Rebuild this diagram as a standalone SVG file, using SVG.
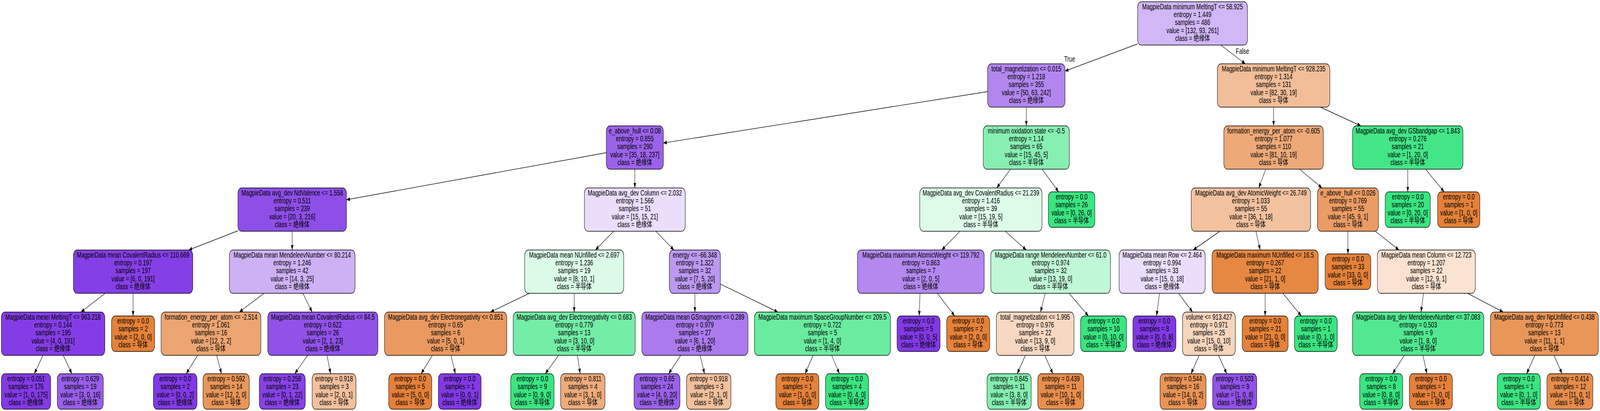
<svg xmlns="http://www.w3.org/2000/svg" width="6059" height="1053" viewBox="0 0 6059 1053" preserveAspectRatio="none">
<style>
svg{width:100vw;height:100vh}
.node rect{stroke:#000;stroke-width:1.4}
.node text,.lbl{font-family:"Liberation Sans","Noto Sans CJK SC",sans-serif;font-size:20.5px;fill:#000;text-anchor:middle}
.edges line{stroke:#000;stroke-width:1.4;marker-end:url(#ah)}
.o{fill:#e58139}.g{fill:#39e581}.p{fill:#8139e5}
</style>
<defs>
<marker id="ah" markerUnits="userSpaceOnUse" markerWidth="14" markerHeight="12" viewBox="0 -6 14 12" refX="13" refY="0" orient="auto"><path d="M0,-5L13,0L0,5z" fill="#000"/></marker>
</defs>
<rect width="6059" height="1053" fill="#fff"/>
<g id="nodes">
<g id="n0" class="node"><rect x="4308" y="4.5" width="416" height="111" rx="14" fill="#d1b7f6"/><text x="4516" y="24.3"><tspan x="4516">MagpieData minimum MeltingT &lt;= 58.925</tspan><tspan x="4516" dy="20.1">entropy = 1.449</tspan><tspan x="4516" dy="20.1">samples = 486</tspan><tspan x="4516" dy="20.1">value = [132, 93, 261]</tspan><tspan x="4516" dy="20.1">class = 绝缘体</tspan></text></g>
<g id="n1" class="node"><rect x="3740" y="163.5" width="293" height="111" rx="14" fill="#b286ef"/><text x="3886.5" y="183.3"><tspan x="3886.5">total_magnetization &lt;= 0.015</tspan><tspan x="3886.5" dy="20.1">entropy = 1.218</tspan><tspan x="3886.5" dy="20.1">samples = 355</tspan><tspan x="3886.5" dy="20.1">value = [50, 63, 242]</tspan><tspan x="3886.5" dy="20.1">class = 绝缘体</tspan></text></g>
<g id="n2" class="node"><rect x="4610" y="163.5" width="426" height="111" rx="14" fill="#f2be99"/><text x="4823" y="183.3"><tspan x="4823">MagpieData minimum MeltingT &lt;= 928.235</tspan><tspan x="4823" dy="20.1">entropy = 1.314</tspan><tspan x="4823" dy="20.1">samples = 131</tspan><tspan x="4823" dy="20.1">value = [82, 30, 19]</tspan><tspan x="4823" dy="20.1">class = 导体</tspan></text></g>
<g id="n3" class="node"><rect x="2296" y="322.5" width="216" height="111" rx="14" fill="#9b62ea"/><text x="2404" y="342.3"><tspan x="2404">e_above_hull &lt;= 0.08</tspan><tspan x="2404" dy="20.1">entropy = 0.855</tspan><tspan x="2404" dy="20.1">samples = 290</tspan><tspan x="2404" dy="20.1">value = [35, 18, 237]</tspan><tspan x="2404" dy="20.1">class = 绝缘体</tspan></text></g>
<g id="n4" class="node"><rect x="3723.5" y="322.5" width="326" height="111" rx="14" fill="#88efb3"/><text x="3886.5" y="342.3"><tspan x="3886.5">minimum oxidation state &lt;= -0.5</tspan><tspan x="3886.5" dy="20.1">entropy = 1.14</tspan><tspan x="3886.5" dy="20.1">samples = 65</tspan><tspan x="3886.5" dy="20.1">value = [15, 45, 5]</tspan><tspan x="3886.5" dy="20.1">class = 半导体</tspan></text></g>
<g id="n5" class="node"><rect x="4634.5" y="322.5" width="377" height="111" rx="14" fill="#eda978"/><text x="4823" y="342.3"><tspan x="4823">formation_energy_per_atom &lt;= -0.605</tspan><tspan x="4823" dy="20.1">entropy = 1.077</tspan><tspan x="4823" dy="20.1">samples = 110</tspan><tspan x="4823" dy="20.1">value = [81, 10, 19]</tspan><tspan x="4823" dy="20.1">class = 导体</tspan></text></g>
<g id="n6" class="node"><rect x="5122" y="322.5" width="418" height="111" rx="14" fill="#43e687"/><text x="5331" y="342.3"><tspan x="5331">MagpieData avg_dev GSbandgap &lt;= 1.843</tspan><tspan x="5331" dy="20.1">entropy = 0.276</tspan><tspan x="5331" dy="20.1">samples = 21</tspan><tspan x="5331" dy="20.1">value = [1, 20, 0]</tspan><tspan x="5331" dy="20.1">class = 半导体</tspan></text></g>
<g id="n7" class="node"><rect x="901" y="481.5" width="411" height="111" rx="14" fill="#8e4ee8"/><text x="1106.5" y="501.3"><tspan x="1106.5">MagpieData avg_dev NdValence &lt;= 1.558</tspan><tspan x="1106.5" dy="20.1">entropy = 0.511</tspan><tspan x="1106.5" dy="20.1">samples = 239</tspan><tspan x="1106.5" dy="20.1">value = [20, 3, 216]</tspan><tspan x="1106.5" dy="20.1">class = 绝缘体</tspan></text></g>
<g id="n8" class="node"><rect x="2213" y="481.5" width="382" height="111" rx="14" fill="#eadefb"/><text x="2404" y="501.3"><tspan x="2404">MagpieData avg_dev Column &lt;= 2.032</tspan><tspan x="2404" dy="20.1">entropy = 1.566</tspan><tspan x="2404" dy="20.1">samples = 51</tspan><tspan x="2404" dy="20.1">value = [15, 15, 21]</tspan><tspan x="2404" dy="20.1">class = 绝缘体</tspan></text></g>
<g id="n9" class="node"><rect x="3483" y="481.5" width="463" height="111" rx="14" fill="#defbea"/><text x="3714.5" y="501.3"><tspan x="3714.5">MagpieData avg_dev CovalentRadius &lt;= 21.239</tspan><tspan x="3714.5" dy="20.1">entropy = 1.416</tspan><tspan x="3714.5" dy="20.1">samples = 39</tspan><tspan x="3714.5" dy="20.1">value = [15, 19, 5]</tspan><tspan x="3714.5" dy="20.1">class = 半导体</tspan></text></g>
<g id="n10" class="node"><rect class="g" x="3970" y="491.5" width="176" height="91" rx="14"/><text x="4058" y="511.35"><tspan x="4058">entropy = 0.0</tspan><tspan x="4058" dy="20.1">samples = 26</tspan><tspan x="4058" dy="20.1">value = [0, 26, 0]</tspan><tspan x="4058" dy="20.1">class = 半导体</tspan></text></g>
<g id="n11" class="node"><rect x="4511" y="481.5" width="452" height="111" rx="14" fill="#f2c29f"/><text x="4737" y="501.3"><tspan x="4737">MagpieData avg_dev AtomicWeight &lt;= 26.749</tspan><tspan x="4737" dy="20.1">entropy = 1.033</tspan><tspan x="4737" dy="20.1">samples = 55</tspan><tspan x="4737" dy="20.1">value = [36, 1, 18]</tspan><tspan x="4737" dy="20.1">class = 导体</tspan></text></g>
<g id="n12" class="node"><rect x="4989" y="481.5" width="231" height="111" rx="14" fill="#eb9c64"/><text x="5104.5" y="501.3"><tspan x="5104.5">e_above_hull &lt;= 0.026</tspan><tspan x="5104.5" dy="20.1">entropy = 0.769</tspan><tspan x="5104.5" dy="20.1">samples = 55</tspan><tspan x="5104.5" dy="20.1">value = [45, 9, 1]</tspan><tspan x="5104.5" dy="20.1">class = 导体</tspan></text></g>
<g id="n13" class="node"><rect class="g" x="5245.5" y="491.5" width="171" height="91" rx="14"/><text x="5331" y="511.35"><tspan x="5331">entropy = 0.0</tspan><tspan x="5331" dy="20.1">samples = 20</tspan><tspan x="5331" dy="20.1">value = [0, 20, 0]</tspan><tspan x="5331" dy="20.1">class = 半导体</tspan></text></g>
<g id="n14" class="node"><rect class="o" x="5444" y="491.5" width="160" height="91" rx="14"/><text x="5524" y="511.35"><tspan x="5524">entropy = 0.0</tspan><tspan x="5524" dy="20.1">samples = 1</tspan><tspan x="5524" dy="20.1">value = [1, 0, 0]</tspan><tspan x="5524" dy="20.1">class = 导体</tspan></text></g>
<g id="n15" class="node"><rect x="278" y="640.5" width="452" height="111" rx="14" fill="#853fe6"/><text x="504" y="660.3"><tspan x="504">MagpieData mean CovalentRadius &lt;= 110.669</tspan><tspan x="504" dy="20.1">entropy = 0.197</tspan><tspan x="504" dy="20.1">samples = 197</tspan><tspan x="504" dy="20.1">value = [6, 0, 191]</tspan><tspan x="504" dy="20.1">class = 绝缘体</tspan></text></g>
<g id="n16" class="node"><rect x="868.5" y="640.5" width="476" height="111" rx="14" fill="#ceb1f5"/><text x="1106.5" y="660.3"><tspan x="1106.5">MagpieData mean MendeleevNumber &lt;= 80.214</tspan><tspan x="1106.5" dy="20.1">entropy = 1.246</tspan><tspan x="1106.5" dy="20.1">samples = 42</tspan><tspan x="1106.5" dy="20.1">value = [14, 3, 25]</tspan><tspan x="1106.5" dy="20.1">class = 绝缘体</tspan></text></g>
<g id="n17" class="node"><rect x="1987" y="640.5" width="375" height="111" rx="14" fill="#dbfae8"/><text x="2174.5" y="660.3"><tspan x="2174.5">MagpieData mean NUnfilled &lt;= 2.697</tspan><tspan x="2174.5" dy="20.1">entropy = 1.236</tspan><tspan x="2174.5" dy="20.1">samples = 19</tspan><tspan x="2174.5" dy="20.1">value = [8, 10, 1]</tspan><tspan x="2174.5" dy="20.1">class = 半导体</tspan></text></g>
<g id="n18" class="node"><rect x="2535" y="640.5" width="193" height="111" rx="14" fill="#bd98f1"/><text x="2631.5" y="660.3"><tspan x="2631.5">energy &lt;= -66.348</tspan><tspan x="2631.5" dy="20.1">entropy = 1.322</tspan><tspan x="2631.5" dy="20.1">samples = 32</tspan><tspan x="2631.5" dy="20.1">value = [7, 5, 20]</tspan><tspan x="2631.5" dy="20.1">class = 绝缘体</tspan></text></g>
<g id="n19" class="node"><rect x="3247" y="640.5" width="480" height="111" rx="14" fill="#b388ef"/><text x="3487" y="660.3"><tspan x="3487">MagpieData maximum AtomicWeight &lt;= 119.792</tspan><tspan x="3487" dy="20.1">entropy = 0.863</tspan><tspan x="3487" dy="20.1">samples = 7</tspan><tspan x="3487" dy="20.1">value = [2, 0, 5]</tspan><tspan x="3487" dy="20.1">class = 绝缘体</tspan></text></g>
<g id="n20" class="node"><rect x="3752" y="640.5" width="453" height="111" rx="14" fill="#c0f7d7"/><text x="3978.5" y="660.3"><tspan x="3978.5">MagpieData range MendeleevNumber &lt;= 61.0</tspan><tspan x="3978.5" dy="20.1">entropy = 0.974</tspan><tspan x="3978.5" dy="20.1">samples = 32</tspan><tspan x="3978.5" dy="20.1">value = [13, 19, 0]</tspan><tspan x="3978.5" dy="20.1">class = 半导体</tspan></text></g>
<g id="n21" class="node"><rect x="4238" y="640.5" width="326" height="111" rx="14" fill="#eadefb"/><text x="4401" y="660.3"><tspan x="4401">MagpieData mean Row &lt;= 2.464</tspan><tspan x="4401" dy="20.1">entropy = 0.994</tspan><tspan x="4401" dy="20.1">samples = 33</tspan><tspan x="4401" dy="20.1">value = [15, 0, 18]</tspan><tspan x="4401" dy="20.1">class = 绝缘体</tspan></text></g>
<g id="n22" class="node"><rect x="4590" y="640.5" width="402" height="111" rx="14" fill="#e68742"/><text x="4791" y="660.3"><tspan x="4791">MagpieData maximum NUnfilled &lt;= 16.5</tspan><tspan x="4791" dy="20.1">entropy = 0.267</tspan><tspan x="4791" dy="20.1">samples = 22</tspan><tspan x="4791" dy="20.1">value = [21, 1, 0]</tspan><tspan x="4791" dy="20.1">class = 导体</tspan></text></g>
<g id="n23" class="node"><rect class="o" x="5018" y="650.5" width="173" height="91" rx="14"/><text x="5104.5" y="670.35"><tspan x="5104.5">entropy = 0.0</tspan><tspan x="5104.5" dy="20.1">samples = 33</tspan><tspan x="5104.5" dy="20.1">value = [33, 0, 0]</tspan><tspan x="5104.5" dy="20.1">class = 导体</tspan></text></g>
<g id="n24" class="node"><rect x="5216" y="640.5" width="371" height="111" rx="14" fill="#f9e2d1"/><text x="5401.5" y="660.3"><tspan x="5401.5">MagpieData mean Column &lt;= 12.723</tspan><tspan x="5401.5" dy="20.1">entropy = 1.207</tspan><tspan x="5401.5" dy="20.1">samples = 22</tspan><tspan x="5401.5" dy="20.1">value = [12, 9, 1]</tspan><tspan x="5401.5" dy="20.1">class = 导体</tspan></text></g>
<g id="n25" class="node"><rect x="5" y="799.5" width="392" height="111" rx="14" fill="#843de6"/><text x="201" y="819.3"><tspan x="201">MagpieData mean MeltingT &lt;= 963.218</tspan><tspan x="201" dy="20.1">entropy = 0.144</tspan><tspan x="201" dy="20.1">samples = 195</tspan><tspan x="201" dy="20.1">value = [4, 0, 191]</tspan><tspan x="201" dy="20.1">class = 绝缘体</tspan></text></g>
<g id="n26" class="node"><rect class="o" x="422.5" y="809.5" width="163" height="91" rx="14"/><text x="504" y="829.35"><tspan x="504">entropy = 0.0</tspan><tspan x="504" dy="20.1">samples = 2</tspan><tspan x="504" dy="20.1">value = [2, 0, 0]</tspan><tspan x="504" dy="20.1">class = 导体</tspan></text></g>
<g id="n27" class="node"><rect x="610" y="799.5" width="378" height="111" rx="14" fill="#eca572"/><text x="799" y="819.3"><tspan x="799">formation_energy_per_atom &lt;= -2.514</tspan><tspan x="799" dy="20.1">entropy = 1.061</tspan><tspan x="799" dy="20.1">samples = 16</tspan><tspan x="799" dy="20.1">value = [12, 2, 2]</tspan><tspan x="799" dy="20.1">class = 导体</tspan></text></g>
<g id="n28" class="node"><rect x="1014" y="799.5" width="417" height="111" rx="14" fill="#9152e8"/><text x="1222.5" y="819.3"><tspan x="1222.5">MagpieData mean CovalentRadius &lt;= 84.5</tspan><tspan x="1222.5" dy="20.1">entropy = 0.622</tspan><tspan x="1222.5" dy="20.1">samples = 26</tspan><tspan x="1222.5" dy="20.1">value = [2, 1, 23]</tspan><tspan x="1222.5" dy="20.1">class = 绝缘体</tspan></text></g>
<g id="n29" class="node"><rect x="1456" y="799.5" width="463" height="111" rx="14" fill="#ea9a61"/><text x="1687.5" y="819.3"><tspan x="1687.5">MagpieData avg_dev Electronegativity &lt;= 0.851</tspan><tspan x="1687.5" dy="20.1">entropy = 0.65</tspan><tspan x="1687.5" dy="20.1">samples = 6</tspan><tspan x="1687.5" dy="20.1">value = [5, 0, 1]</tspan><tspan x="1687.5" dy="20.1">class = 导体</tspan></text></g>
<g id="n30" class="node"><rect x="1943.5" y="799.5" width="462" height="111" rx="14" fill="#74eda7"/><text x="2174.5" y="819.3"><tspan x="2174.5">MagpieData avg_dev Electronegativity &lt;= 0.683</tspan><tspan x="2174.5" dy="20.1">entropy = 0.779</tspan><tspan x="2174.5" dy="20.1">samples = 13</tspan><tspan x="2174.5" dy="20.1">value = [3, 10, 0]</tspan><tspan x="2174.5" dy="20.1">class = 半导体</tspan></text></g>
<g id="n31" class="node"><rect x="2430.5" y="799.5" width="402" height="111" rx="14" fill="#ab7bee"/><text x="2631.5" y="819.3"><tspan x="2631.5">MagpieData mean GSmagmom &lt;= 0.289</tspan><tspan x="2631.5" dy="20.1">entropy = 0.979</tspan><tspan x="2631.5" dy="20.1">samples = 27</tspan><tspan x="2631.5" dy="20.1">value = [6, 1, 20]</tspan><tspan x="2631.5" dy="20.1">class = 绝缘体</tspan></text></g>
<g id="n32" class="node"><rect x="2857" y="799.5" width="515" height="111" rx="14" fill="#6aeca0"/><text x="3114.5" y="819.3"><tspan x="3114.5">MagpieData maximum SpaceGroupNumber &lt;= 209.5</tspan><tspan x="3114.5" dy="20.1">entropy = 0.722</tspan><tspan x="3114.5" dy="20.1">samples = 5</tspan><tspan x="3114.5" dy="20.1">value = [1, 4, 0]</tspan><tspan x="3114.5" dy="20.1">class = 半导体</tspan></text></g>
<g id="n33" class="node"><rect class="p" x="3397" y="809.5" width="163" height="91" rx="14"/><text x="3478.5" y="829.35"><tspan x="3478.5">entropy = 0.0</tspan><tspan x="3478.5" dy="20.1">samples = 5</tspan><tspan x="3478.5" dy="20.1">value = [0, 0, 5]</tspan><tspan x="3478.5" dy="20.1">class = 绝缘体</tspan></text></g>
<g id="n34" class="node"><rect class="o" x="3585" y="809.5" width="163" height="91" rx="14"/><text x="3666.5" y="829.35"><tspan x="3666.5">entropy = 0.0</tspan><tspan x="3666.5" dy="20.1">samples = 2</tspan><tspan x="3666.5" dy="20.1">value = [2, 0, 0]</tspan><tspan x="3666.5" dy="20.1">class = 导体</tspan></text></g>
<g id="n35" class="node"><rect x="3773" y="799.5" width="294" height="111" rx="14" fill="#f7d8c2"/><text x="3920" y="819.3"><tspan x="3920">total_magnetization &lt;= 1.995</tspan><tspan x="3920" dy="20.1">entropy = 0.976</tspan><tspan x="3920" dy="20.1">samples = 22</tspan><tspan x="3920" dy="20.1">value = [13, 9, 0]</tspan><tspan x="3920" dy="20.1">class = 导体</tspan></text></g>
<g id="n36" class="node"><rect class="g" x="4092" y="809.5" width="174" height="91" rx="14"/><text x="4179" y="829.35"><tspan x="4179">entropy = 0.0</tspan><tspan x="4179" dy="20.1">samples = 10</tspan><tspan x="4179" dy="20.1">value = [0, 10, 0]</tspan><tspan x="4179" dy="20.1">class = 半导体</tspan></text></g>
<g id="n37" class="node"><rect class="p" x="4290" y="809.5" width="163" height="91" rx="14"/><text x="4371.5" y="829.35"><tspan x="4371.5">entropy = 0.0</tspan><tspan x="4371.5" dy="20.1">samples = 8</tspan><tspan x="4371.5" dy="20.1">value = [0, 0, 8]</tspan><tspan x="4371.5" dy="20.1">class = 绝缘体</tspan></text></g>
<g id="n38" class="node"><rect x="4478" y="799.5" width="200" height="111" rx="14" fill="#f6d5bd"/><text x="4578" y="819.3"><tspan x="4578">volume &lt;= 913.427</tspan><tspan x="4578" dy="20.1">entropy = 0.971</tspan><tspan x="4578" dy="20.1">samples = 25</tspan><tspan x="4578" dy="20.1">value = [15, 0, 10]</tspan><tspan x="4578" dy="20.1">class = 导体</tspan></text></g>
<g id="n39" class="node"><rect class="o" x="4704" y="809.5" width="174" height="91" rx="14"/><text x="4791" y="829.35"><tspan x="4791">entropy = 0.0</tspan><tspan x="4791" dy="20.1">samples = 21</tspan><tspan x="4791" dy="20.1">value = [21, 0, 0]</tspan><tspan x="4791" dy="20.1">class = 导体</tspan></text></g>
<g id="n40" class="node"><rect class="g" x="4902" y="809.5" width="162" height="91" rx="14"/><text x="4983" y="829.35"><tspan x="4983">entropy = 0.0</tspan><tspan x="4983" dy="20.1">samples = 1</tspan><tspan x="4983" dy="20.1">value = [0, 1, 0]</tspan><tspan x="4983" dy="20.1">class = 半导体</tspan></text></g>
<g id="n41" class="node"><rect x="5122" y="799.5" width="497" height="111" rx="14" fill="#52e891"/><text x="5370.5" y="819.3"><tspan x="5370.5">MagpieData avg_dev MendeleevNumber &lt;= 37.083</tspan><tspan x="5370.5" dy="20.1">entropy = 0.503</tspan><tspan x="5370.5" dy="20.1">samples = 9</tspan><tspan x="5370.5" dy="20.1">value = [1, 8, 0]</tspan><tspan x="5370.5" dy="20.1">class = 半导体</tspan></text></g>
<g id="n42" class="node"><rect x="5644" y="799.5" width="409" height="111" rx="14" fill="#e99659"/><text x="5848.5" y="819.3"><tspan x="5848.5">MagpieData avg_dev NpUnfilled &lt;= 0.438</tspan><tspan x="5848.5" dy="20.1">entropy = 0.773</tspan><tspan x="5848.5" dy="20.1">samples = 13</tspan><tspan x="5848.5" dy="20.1">value = [11, 1, 1]</tspan><tspan x="5848.5" dy="20.1">class = 导体</tspan></text></g>
<g id="n43" class="node"><rect x="5" y="957.5" width="187" height="91" rx="14" fill="#823ae5"/><text x="98.5" y="977.35"><tspan x="98.5">entropy = 0.051</tspan><tspan x="98.5" dy="20.1">samples = 176</tspan><tspan x="98.5" dy="20.1">value = [1, 0, 175]</tspan><tspan x="98.5" dy="20.1">class = 绝缘体</tspan></text></g>
<g id="n44" class="node"><rect x="217" y="957.5" width="174" height="91" rx="14" fill="#995eea"/><text x="304" y="977.35"><tspan x="304">entropy = 0.629</tspan><tspan x="304" dy="20.1">samples = 19</tspan><tspan x="304" dy="20.1">value = [3, 0, 16]</tspan><tspan x="304" dy="20.1">class = 绝缘体</tspan></text></g>
<g id="n45" class="node"><rect class="p" x="581" y="957.5" width="165" height="91" rx="14"/><text x="663.5" y="977.35"><tspan x="663.5">entropy = 0.0</tspan><tspan x="663.5" dy="20.1">samples = 2</tspan><tspan x="663.5" dy="20.1">value = [0, 0, 2]</tspan><tspan x="663.5" dy="20.1">class = 绝缘体</tspan></text></g>
<g id="n46" class="node"><rect x="769" y="957.5" width="175" height="91" rx="14" fill="#e99659"/><text x="856.5" y="977.35"><tspan x="856.5">entropy = 0.592</tspan><tspan x="856.5" dy="20.1">samples = 14</tspan><tspan x="856.5" dy="20.1">value = [12, 2, 0]</tspan><tspan x="856.5" dy="20.1">class = 导体</tspan></text></g>
<g id="n47" class="node"><rect x="982" y="957.5" width="174" height="91" rx="14" fill="#8742e6"/><text x="1069" y="977.35"><tspan x="1069">entropy = 0.258</tspan><tspan x="1069" dy="20.1">samples = 23</tspan><tspan x="1069" dy="20.1">value = [0, 1, 22]</tspan><tspan x="1069" dy="20.1">class = 绝缘体</tspan></text></g>
<g id="n48" class="node"><rect x="1182" y="957.5" width="166" height="91" rx="14" fill="#f2c09c"/><text x="1265" y="977.35"><tspan x="1265">entropy = 0.918</tspan><tspan x="1265" dy="20.1">samples = 3</tspan><tspan x="1265" dy="20.1">value = [2, 0, 1]</tspan><tspan x="1265" dy="20.1">class = 导体</tspan></text></g>
<g id="n49" class="node"><rect class="o" x="1472" y="957.5" width="163" height="91" rx="14"/><text x="1553.5" y="977.35"><tspan x="1553.5">entropy = 0.0</tspan><tspan x="1553.5" dy="20.1">samples = 5</tspan><tspan x="1553.5" dy="20.1">value = [5, 0, 0]</tspan><tspan x="1553.5" dy="20.1">class = 导体</tspan></text></g>
<g id="n50" class="node"><rect class="p" x="1660" y="957.5" width="162" height="91" rx="14"/><text x="1741" y="977.35"><tspan x="1741">entropy = 0.0</tspan><tspan x="1741" dy="20.1">samples = 1</tspan><tspan x="1741" dy="20.1">value = [0, 0, 1]</tspan><tspan x="1741" dy="20.1">class = 绝缘体</tspan></text></g>
<g id="n51" class="node"><rect class="g" x="1934" y="957.5" width="164" height="91" rx="14"/><text x="2016" y="977.35"><tspan x="2016">entropy = 0.0</tspan><tspan x="2016" dy="20.1">samples = 9</tspan><tspan x="2016" dy="20.1">value = [0, 9, 0]</tspan><tspan x="2016" dy="20.1">class = 半导体</tspan></text></g>
<g id="n52" class="node"><rect x="2123" y="957.5" width="168" height="91" rx="14" fill="#eeab7b"/><text x="2207" y="977.35"><tspan x="2207">entropy = 0.811</tspan><tspan x="2207" dy="20.1">samples = 4</tspan><tspan x="2207" dy="20.1">value = [3, 1, 0]</tspan><tspan x="2207" dy="20.1">class = 导体</tspan></text></g>
<g id="n53" class="node"><rect x="2401" y="957.5" width="174" height="91" rx="14" fill="#9a61ea"/><text x="2488" y="977.35"><tspan x="2488">entropy = 0.65</tspan><tspan x="2488" dy="20.1">samples = 24</tspan><tspan x="2488" dy="20.1">value = [4, 0, 20]</tspan><tspan x="2488" dy="20.1">class = 绝缘体</tspan></text></g>
<g id="n54" class="node"><rect x="2600" y="957.5" width="168" height="91" rx="14" fill="#f2c09c"/><text x="2684" y="977.35"><tspan x="2684">entropy = 0.918</tspan><tspan x="2684" dy="20.1">samples = 3</tspan><tspan x="2684" dy="20.1">value = [2, 1, 0]</tspan><tspan x="2684" dy="20.1">class = 导体</tspan></text></g>
<g id="n55" class="node"><rect class="o" x="2938" y="957.5" width="163" height="91" rx="14"/><text x="3019.5" y="977.35"><tspan x="3019.5">entropy = 0.0</tspan><tspan x="3019.5" dy="20.1">samples = 1</tspan><tspan x="3019.5" dy="20.1">value = [1, 0, 0]</tspan><tspan x="3019.5" dy="20.1">class = 导体</tspan></text></g>
<g id="n56" class="node"><rect class="g" x="3126" y="957.5" width="163" height="91" rx="14"/><text x="3207.5" y="977.35"><tspan x="3207.5">entropy = 0.0</tspan><tspan x="3207.5" dy="20.1">samples = 4</tspan><tspan x="3207.5" dy="20.1">value = [0, 4, 0]</tspan><tspan x="3207.5" dy="20.1">class = 半导体</tspan></text></g>
<g id="n57" class="node"><rect x="3738" y="957.5" width="167" height="91" rx="14" fill="#83efb0"/><text x="3821.5" y="977.35"><tspan x="3821.5">entropy = 0.845</tspan><tspan x="3821.5" dy="20.1">samples = 11</tspan><tspan x="3821.5" dy="20.1">value = [3, 8, 0]</tspan><tspan x="3821.5" dy="20.1">class = 半导体</tspan></text></g>
<g id="n58" class="node"><rect x="3930" y="957.5" width="174" height="91" rx="14" fill="#e88e4d"/><text x="4017" y="977.35"><tspan x="4017">entropy = 0.439</tspan><tspan x="4017" dy="20.1">samples = 11</tspan><tspan x="4017" dy="20.1">value = [10, 1, 0]</tspan><tspan x="4017" dy="20.1">class = 导体</tspan></text></g>
<g id="n59" class="node"><rect x="4393" y="957.5" width="174" height="91" rx="14" fill="#e99355"/><text x="4480" y="977.35"><tspan x="4480">entropy = 0.544</tspan><tspan x="4480" dy="20.1">samples = 16</tspan><tspan x="4480" dy="20.1">value = [14, 0, 2]</tspan><tspan x="4480" dy="20.1">class = 导体</tspan></text></g>
<g id="n60" class="node"><rect x="4592" y="957.5" width="167" height="91" rx="14" fill="#9152e8"/><text x="4675.5" y="977.35"><tspan x="4675.5">entropy = 0.503</tspan><tspan x="4675.5" dy="20.1">samples = 9</tspan><tspan x="4675.5" dy="20.1">value = [1, 0, 8]</tspan><tspan x="4675.5" dy="20.1">class = 绝缘体</tspan></text></g>
<g id="n61" class="node"><rect class="g" x="5149" y="957.5" width="163" height="91" rx="14"/><text x="5230.5" y="977.35"><tspan x="5230.5">entropy = 0.0</tspan><tspan x="5230.5" dy="20.1">samples = 8</tspan><tspan x="5230.5" dy="20.1">value = [0, 8, 0]</tspan><tspan x="5230.5" dy="20.1">class = 半导体</tspan></text></g>
<g id="n62" class="node"><rect class="o" x="5337" y="957.5" width="163" height="91" rx="14"/><text x="5418.5" y="977.35"><tspan x="5418.5">entropy = 0.0</tspan><tspan x="5418.5" dy="20.1">samples = 1</tspan><tspan x="5418.5" dy="20.1">value = [1, 0, 0]</tspan><tspan x="5418.5" dy="20.1">class = 导体</tspan></text></g>
<g id="n63" class="node"><rect class="g" x="5670" y="957.5" width="163" height="91" rx="14"/><text x="5751.5" y="977.35"><tspan x="5751.5">entropy = 0.0</tspan><tspan x="5751.5" dy="20.1">samples = 1</tspan><tspan x="5751.5" dy="20.1">value = [0, 1, 0]</tspan><tspan x="5751.5" dy="20.1">class = 半导体</tspan></text></g>
<g id="n64" class="node"><rect x="5858" y="957.5" width="174" height="91" rx="14" fill="#e78c4b"/><text x="5945" y="977.35"><tspan x="5945">entropy = 0.414</tspan><tspan x="5945" dy="20.1">samples = 12</tspan><tspan x="5945" dy="20.1">value = [11, 0, 1]</tspan><tspan x="5945" dy="20.1">class = 导体</tspan></text></g>
</g>
<g id="connectors" class="edges">
<line x1="4308" y1="112.5" x2="4033" y2="182"/>
<line x1="4623.2" y1="115.5" x2="4715.8" y2="163.5"/>
<line x1="3740" y1="234.7" x2="2512" y2="366.4"/>
<line x1="3886.5" y1="274.5" x2="3886.5" y2="322.5"/>
<line x1="4823" y1="274.5" x2="4823" y2="322.5"/>
<line x1="5000.3" y1="274.5" x2="5153.7" y2="322.5"/>
<line x1="2296" y1="391.2" x2="1312" y2="511.8"/>
<line x1="2404" y1="433.5" x2="2404" y2="481.5"/>
<line x1="3826.5" y1="433.5" x2="3774.5" y2="481.5"/>
<line x1="3946.4" y1="433.5" x2="4008.9" y2="491.5"/>
<line x1="4793" y1="433.5" x2="4767" y2="481.5"/>
<line x1="4921.3" y1="433.5" x2="5006.2" y2="481.5"/>
<line x1="5331" y1="433.5" x2="5331" y2="491.5"/>
<line x1="5398.4" y1="433.5" x2="5468.8" y2="491.5"/>
<line x1="901" y1="591.2" x2="714.3" y2="640.5"/>
<line x1="1106.5" y1="592.5" x2="1106.5" y2="640.5"/>
<line x1="2323.9" y1="592.5" x2="2254.6" y2="640.5"/>
<line x1="2483.4" y1="592.5" x2="2552.1" y2="640.5"/>
<line x1="3635.1" y1="592.5" x2="3566.4" y2="640.5"/>
<line x1="3806.7" y1="592.5" x2="3886.3" y2="640.5"/>
<line x1="4619.7" y1="592.5" x2="4518.3" y2="640.5"/>
<line x1="4755.8" y1="592.5" x2="4772.2" y2="640.5"/>
<line x1="5104.5" y1="592.5" x2="5104.5" y2="650.5"/>
<line x1="5208.2" y1="592.5" x2="5297.8" y2="640.5"/>
<line x1="398.2" y1="751.5" x2="306.8" y2="799.5"/>
<line x1="504" y1="751.5" x2="504" y2="809.5"/>
<line x1="999.2" y1="751.5" x2="906.3" y2="799.5"/>
<line x1="1147" y1="751.5" x2="1182" y2="799.5"/>
<line x1="2004.5" y1="751.5" x2="1857.5" y2="799.5"/>
<line x1="2174.5" y1="751.5" x2="2174.5" y2="799.5"/>
<line x1="2631.5" y1="751.5" x2="2631.5" y2="799.5"/>
<line x1="2728" y1="727.8" x2="2945.9" y2="799.5"/>
<line x1="3484" y1="751.5" x2="3480.9" y2="809.5"/>
<line x1="3549.7" y1="751.5" x2="3615.1" y2="809.5"/>
<line x1="3958.1" y1="751.5" x2="3940.4" y2="799.5"/>
<line x1="4048.5" y1="751.5" x2="4121.6" y2="809.5"/>
<line x1="4390.7" y1="751.5" x2="4379.9" y2="809.5"/>
<line x1="4462.8" y1="751.5" x2="4516.2" y2="799.5"/>
<line x1="4791" y1="751.5" x2="4791" y2="809.5"/>
<line x1="4858" y1="751.5" x2="4928" y2="809.5"/>
<line x1="5390.7" y1="751.5" x2="5381.3" y2="799.5"/>
<line x1="5557.5" y1="751.5" x2="5692.5" y2="799.5"/>
<line x1="162.6" y1="910.5" x2="130" y2="957.5"/>
<line x1="239.6" y1="910.5" x2="272.3" y2="957.5"/>
<line x1="748.2" y1="910.5" x2="705.2" y2="957.5"/>
<line x1="820.6" y1="910.5" x2="838.8" y2="957.5"/>
<line x1="1164.9" y1="910.5" x2="1116.2" y2="957.5"/>
<line x1="1238.4" y1="910.5" x2="1251.9" y2="957.5"/>
<line x1="1637.2" y1="910.5" x2="1594.7" y2="957.5"/>
<line x1="1707.6" y1="910.5" x2="1724.6" y2="957.5"/>
<line x1="2115.1" y1="910.5" x2="2064.7" y2="957.5"/>
<line x1="2186.7" y1="910.5" x2="2197" y2="957.5"/>
<line x1="2577.7" y1="910.5" x2="2532.1" y2="957.5"/>
<line x1="2651.2" y1="910.5" x2="2667.9" y2="957.5"/>
<line x1="3078.9" y1="910.5" x2="3048.7" y2="957.5"/>
<line x1="3149.4" y1="910.5" x2="3178.9" y2="957.5"/>
<line x1="3883.1" y1="910.5" x2="3851.8" y2="957.5"/>
<line x1="3956.4" y1="910.5" x2="3987.2" y2="957.5"/>
<line x1="4541.3" y1="910.5" x2="4510.1" y2="957.5"/>
<line x1="4614.6" y1="910.5" x2="4645.5" y2="957.5"/>
<line x1="5318" y1="910.5" x2="5273.5" y2="957.5"/>
<line x1="5388.5" y1="910.5" x2="5403.7" y2="957.5"/>
<line x1="5812.1" y1="910.5" x2="5781.3" y2="957.5"/>
<line x1="5884.7" y1="910.5" x2="5915.3" y2="957.5"/>
<text class="lbl" x="4051" y="158.3">True</text>
<text class="lbl" x="4705" y="138.3">False</text>
</g>
</svg>
